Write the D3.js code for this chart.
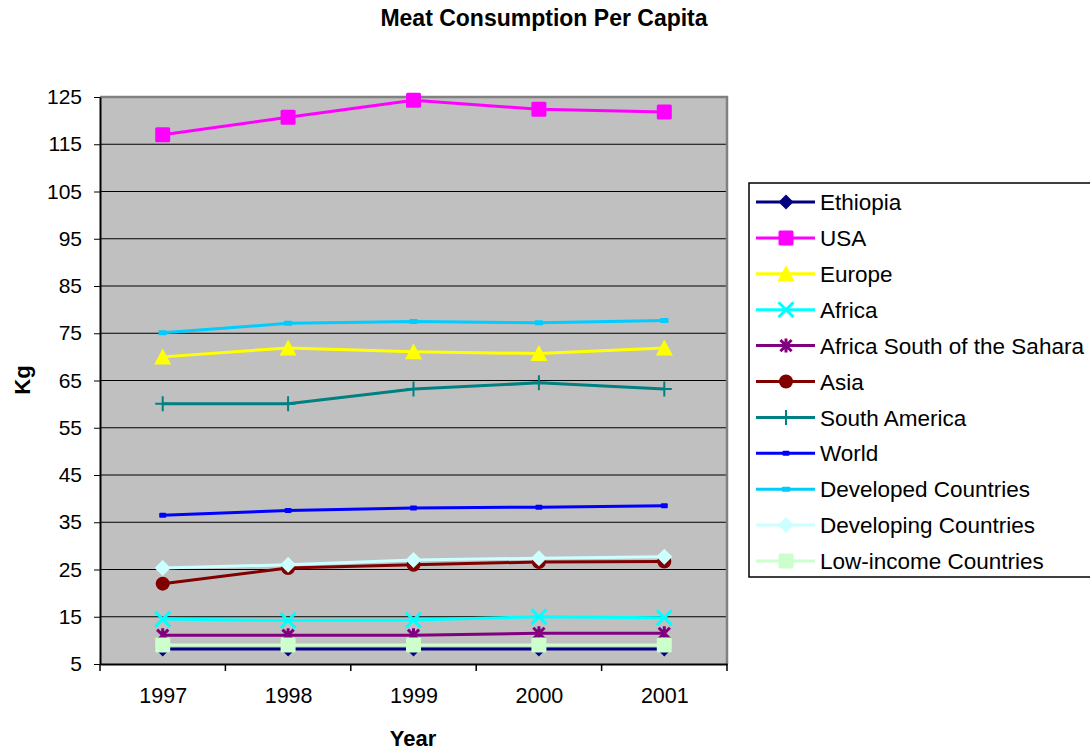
<!DOCTYPE html>
<html>
<head>
<meta charset="utf-8">
<script src="https://cdn.jsdelivr.net/npm/d3@7"></script>
<style>
  body { margin: 0; background: #fff; }
  text { font-family: "Liberation Sans", Arial, sans-serif; fill: #000; }
</style>
</head>
<body>
<div id="chart"></div>
<script>
'use strict';

var years = ['1997', '1998', '1999', '2000', '2001']
var yTicks = [5, 15, 25, 35, 45, 55, 65, 75, 85, 95, 105, 115, 125]

var seriesNames = ['Ethiopia', 'USA', 'Europe', 'Africa', 'Africa South of the Sahara', 'Asia',
    'South America', 'World', 'Developed Countries', 'Developing Countries', 'Low-income Countries']
var ethiopia = [8.2, 8.2, 8.2, 8.2, 8.2]
var usa = [117.0, 120.7, 124.3, 122.4, 121.8]
var europe = [70.0, 71.9, 71.1, 70.7, 71.9]
var africa = [14.5, 14.2, 14.3, 15.0, 14.8]
var africaSSA = [11.1, 11.1, 11.1, 11.5, 11.5]
var asia = [22.0, 25.3, 26.0, 26.6, 26.7]
var southAmerica = [60.1, 60.1, 63.2, 64.5, 63.2]
var world = [36.5, 37.5, 38.0, 38.2, 38.5]
var developed = [75.1, 77.1, 77.5, 77.2, 77.7]
var developing = [25.3, 26.0, 27.0, 27.4, 27.7]
var lowIncome = [9.0, 9.0, 9.0, 9.0, 9.0]

var seriesValues = [ethiopia, usa, europe, africa, africaSSA, asia, southAmerica, world, developed, developing, lowIncome]
var colors = ['#000080', '#FF00FF', '#FFFF00', '#00FFFF', '#800080', '#800000',
    '#008080', '#0000FF', '#00CCFF', '#CCFFFF', '#CCFFCC']
var markers = ['diamond', 'square', 'triangle', 'x', 'star', 'circle', 'plus', 'dash', 'dash', 'diamond', 'square']

var svg = d3.select('#chart').append('svg').attr('width', 1090).attr('height', 750)

var plotLeft = 100, plotRight = 727, plotTop = 97, plotBottom = 664

var x = d3.scalePoint().domain(years).range([plotLeft, plotRight]).padding(0.5)
var y = d3.scaleLinear().domain([5, 125]).range([plotBottom, plotTop])

// plot background
svg.append('rect')
    .attr('x', plotLeft).attr('y', plotTop)
    .attr('width', plotRight - plotLeft).attr('height', plotBottom - plotTop)
    .style('fill', '#C0C0C0')

// gridlines
svg.append('g').selectAll('line')
    .data(yTicks.slice(1, -1))
    .enter().append('line')
    .attr('x1', plotLeft).attr('x2', plotRight)
    .attr('y1', function(d) { return y(d) }).attr('y2', function(d) { return y(d) })
    .style('stroke', '#000').style('stroke-width', 1)

// gray frame top/right
svg.append('path')
    .attr('d', 'M' + plotLeft + ',' + plotTop + 'H' + plotRight + 'V' + plotBottom)
    .style('fill', 'none').style('stroke', '#808080').style('stroke-width', 2.5)

// y axis
var yAxis = svg.append('g')
    .attr('transform', 'translate(' + plotLeft + ',0)')
    .call(d3.axisLeft(y).tickValues(yTicks).tickSize(6).tickSizeOuter(0).tickPadding(12))
yAxis.select('.domain').style('stroke', '#000').style('stroke-width', 2)
yAxis.selectAll('text').style('font-size', '21px')

// x axis: ticks at category boundaries
var band = (plotRight - plotLeft) / years.length
var xAxis = svg.append('g')
    .attr('transform', 'translate(0,' + plotBottom + ')')
    .call(d3.axisBottom(x).tickSize(0).tickSizeOuter(0).tickPadding(24))
xAxis.select('.domain').style('stroke', '#000').style('stroke-width', 2)
xAxis.selectAll('text').style('font-size', '21.5px')
xAxis.selectAll('.bnd')
    .data(d3.range(years.length + 1))
    .enter().append('line')
    .attr('class', 'bnd')
    .attr('x1', function(i) { return plotLeft + i * band }).attr('x2', function(i) { return plotLeft + i * band })
    .attr('y1', 0).attr('y2', 7)
    .style('stroke', '#000').style('stroke-width', 1.5)

// marker drawing
function drawMarker(g, type, color, s) {
    var h = s / 2
    if (type === 'diamond') {
        g.append('path').attr('d', 'M0,' + (-h - 1) + 'L' + (h + 1) + ',0L0,' + (h + 1) + 'L' + (-h - 1) + ',0Z')
            .style('fill', color)
    } else if (type === 'square') {
        g.append('rect').attr('x', -h).attr('y', -h).attr('width', s).attr('height', s)
            .attr('rx', 1.5).style('fill', color)
    } else if (type === 'triangle') {
        g.append('path').attr('d', 'M0,' + (-h - 1) + 'L' + (h + 1) + ',' + h + 'L' + (-h - 1) + ',' + h + 'Z')
            .style('fill', color)
    } else if (type === 'circle') {
        g.append('circle').attr('r', h).style('fill', color)
    } else if (type === 'x') {
        g.append('path').attr('d', 'M' + (-h) + ',' + (-h) + 'L' + h + ',' + h + 'M' + h + ',' + (-h) + 'L' + (-h) + ',' + h)
            .style('stroke', color).style('stroke-width', 3).style('fill', 'none')
    } else if (type === 'star') {
        var a = h * 0.8
        g.append('path').attr('d', 'M' + (-a) + ',' + (-a) + 'L' + a + ',' + a + 'M' + a + ',' + (-a) + 'L' + (-a) + ',' + a +
            'M0,' + (-h) + 'V' + h)
            .style('stroke', color).style('stroke-width', 3).style('fill', 'none')
    } else if (type === 'plus') {
        g.append('path').attr('d', 'M0,' + (-h) + 'V' + h + 'M' + (-h) + ',0H' + h)
            .style('stroke', color).style('stroke-width', 2).style('fill', 'none')
    } else if (type === 'dash') {
        g.append('rect').attr('x', -h * 0.7).attr('y', -2.5).attr('width', s * 0.7).attr('height', 5)
            .attr('rx', 1).style('fill', color)
    }
}

var markerSize = [13, 15, 15, 15, 14, 14, 15, 10, 12, 14, 15]

var line = d3.line()
    .x(function(d, i) { return x(years[i]) })
    .y(function(d) { return y(d) })

seriesValues.forEach(function(vals, k) {
    var g = svg.append('g')
    g.append('path')
        .datum(vals)
        .attr('d', line)
        .style('fill', 'none')
        .style('stroke', colors[k])
        .style('stroke-width', 3)
    vals.forEach(function(v, i) {
        var m = g.append('g').attr('transform', 'translate(' + x(years[i]) + ',' + y(v) + ')')
        drawMarker(m, markers[k], colors[k], markerSize[k])
    })
})

// title and axis titles
svg.append('text')
    .attr('x', 544).attr('y', 26)
    .attr('text-anchor', 'middle')
    .style('font-size', '23px').style('font-weight', 'bold')
    .text('Meat Consumption Per Capita')

svg.append('text')
    .attr('transform', 'translate(30,380) rotate(-90)')
    .attr('text-anchor', 'middle')
    .style('font-size', '22px').style('font-weight', 'bold')
    .text('Kg')

svg.append('text')
    .attr('x', 413).attr('y', 746)
    .attr('text-anchor', 'middle')
    .style('font-size', '22px').style('font-weight', 'bold')
    .text('Year')

// legend
var legend = svg.append('g')
legend.append('rect')
    .attr('x', 749).attr('y', 183)
    .attr('width', 360).attr('height', 394)
    .style('fill', '#fff').style('stroke', '#000').style('stroke-width', 1.5)

seriesNames.forEach(function(name, k) {
    var cy = 202 + k * 35.9
    var lg = legend.append('g')
    lg.append('line')
        .attr('x1', 756).attr('x2', 815)
        .attr('y1', cy).attr('y2', cy)
        .style('stroke', colors[k]).style('stroke-width', 3)
    var m = lg.append('g').attr('transform', 'translate(786,' + cy + ')')
    drawMarker(m, markers[k], colors[k], markerSize[k])
    lg.append('text')
        .attr('x', 820).attr('y', cy)
        .attr('dy', '0.36em')
        .style('font-size', '22.5px')
        .text(name)
})
</script>
</body>
</html>
